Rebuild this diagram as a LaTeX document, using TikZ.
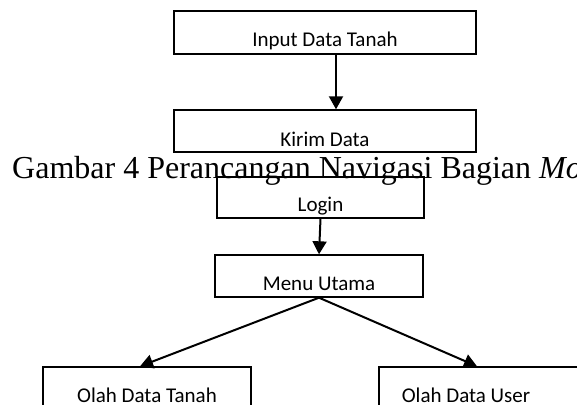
\documentclass[tikz,border=0pt]{standalone}
\usepackage{fontspec}
\setmainfont{Carlito}
\newfontfamily\capfont{Liberation Serif}
\usetikzlibrary{arrows.meta}
\tikzset{
  box/.style={draw, line width=1.4pt, inner xsep=0pt, inner ysep=0pt,
    font=\fontsize{21}{21}\selectfont},
  arr/.style={line width=2pt, -{Triangle[length=13pt,width=14pt]}},
  lbl/.style={inner sep=0pt, anchor=base, font=\fontsize{21}{21}\selectfont}
}
\begin{document}
\begin{tikzpicture}[x=1pt,y=-1pt]
\useasboundingbox (0,0) rectangle (577,404);
\clip (0,0) rectangle (577,404);
% caption
\node[inner sep=0pt, anchor=base west, font=\capfont\fontsize{32}{32}\selectfont] (cap) at (12,178)
  {Gambar 4 Perancangan Navigasi Bagian \textit{Mo}};
% boxes
\node[box, minimum width=302pt, text height=35pt, text depth=8pt] (b1) at (325,32.5) {Input Data Tanah};
\node[box, minimum width=302pt, text height=36pt, text depth=6pt] (b2) at (325,131) {Kirim Data};
\node[box, minimum width=207pt, text height=34pt, text depth=7pt] (b3) at (320.5,197.5) {Login};
\node[box, minimum width=208pt, text height=35pt, text depth=7pt] (b4) at (319,276) {Menu Utama};
\node[box, minimum width=208pt, text height=35pt, text depth=7pt] (b5) at (147,388) {Olah Data Tanah};
\node[box, minimum width=208pt, minimum height=42pt] (b6) at (483,388) {};
\node[lbl] (t6) at (466,402) {Olah Data User};
% arrow positions
\coordinate (xa) at (336,0);
\coordinate (xl) at (140,0);
\coordinate (xr) at (477,0);
\draw[arr] (b1.south -| xa) -- (b2.north -| xa);
\draw[arr] (b3.south) -- (b4.north);
\draw[arr] (b4.south) -- (b5.north -| xl);
\draw[arr] (b4.south) -- (b6.north -| xr);
\end{tikzpicture}
\end{document}
